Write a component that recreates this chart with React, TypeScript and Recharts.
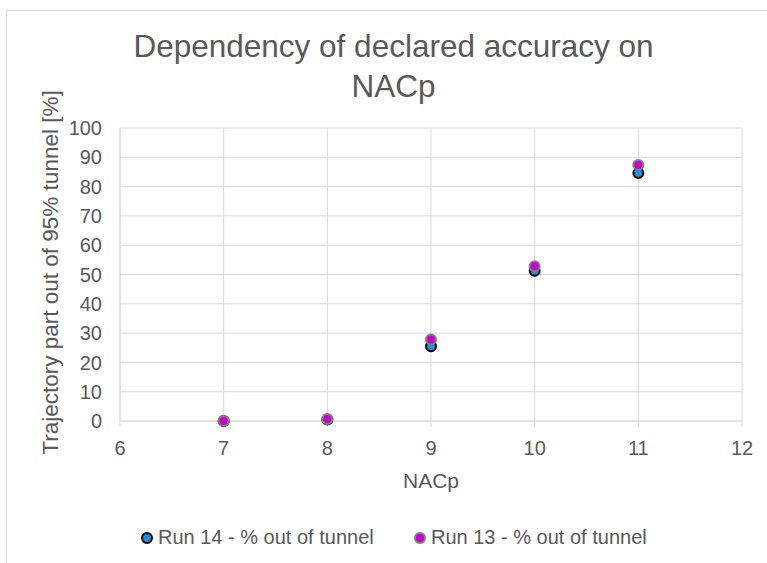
import React from 'react';
import { ScatterChart, Scatter, XAxis, YAxis, CartesianGrid, Legend } from 'recharts';

const nacp = [7, 8, 9, 10, 11];
const run14 = [0, 0.5, 25.5, 51.3, 84.6];
const run13 = [0, 0.7, 27.8, 52.8, 87.4];
const xTicks = [6, 7, 8, 9, 10, 11, 12];
const yTicks = [0, 10, 20, 30, 40, 50, 60, 70, 80, 90, 100];
const seriesNames = ['Run 14 - % out of tunnel', 'Run 13 - % out of tunnel'];

const data14 = nacp.map((x, i) => ({ x, y: run14[i] }));
const data13 = nacp.map((x, i) => ({ x, y: run13[i] }));

const FONT = '"Liberation Sans", Arial, sans-serif';
const TXT = '#595959';
const GRID = '#d9d9d9';

const BLUE = { fill: '#1d8fe1', stroke: '#000000' };
const PINK = { fill: '#cc00cc', stroke: '#7f7f7f' };

const makeShape = (st: { fill: string; stroke: string }) => (props: any) => (
  <circle cx={props.cx} cy={props.cy} r={5} fill={st.fill} stroke={st.stroke} strokeWidth={2} />
);

const YLabel = (props: any) => {
  const vb = props.viewBox || { x: 60, y: 128, width: 60, height: 293 };
  const cx = vb.x - 10;
  const cy = vb.y + vb.height / 2 - 2;
  return (
    <text
      x={cx}
      y={cy}
      transform={`rotate(-90, ${cx}, ${cy})`}
      textAnchor="middle"
      dominantBaseline="central"
      fill={TXT}
      fontSize={22.5}
      fontFamily={FONT}
    >
      Trajectory part out of 95% tunnel [%]
    </text>
  );
};

const LegendContent = () => {
  const styles = [BLUE, PINK];
  const lefts = [140, 413];
  return (
    <div style={{ position: 'relative', height: 26, fontFamily: FONT, fontSize: 20, color: TXT }}>
      {seriesNames.map((n, i) => (
        <div key={n} style={{ position: 'absolute', left: lefts[i], top: 0, display: 'flex', alignItems: 'center', whiteSpace: 'nowrap' }}>
          <svg width={14} height={14} style={{ marginRight: 4 }}>
            <circle cx={7} cy={7} r={5} fill={styles[i].fill} stroke={styles[i].stroke} strokeWidth={2} />
          </svg>
          <span>{n}</span>
        </div>
      ))}
    </div>
  );
};

export default function App() {
  return (
    <div style={{ position: 'absolute', left: 0, top: 0, width: 767, height: 563, overflow: 'hidden', background: '#fff' }}>
      <div style={{ position: 'absolute', left: 6, top: 10, width: 820, height: 620, border: '1px solid #d9d9d9', boxSizing: 'border-box' }} />
      <div
        style={{
          position: 'absolute',
          left: 7,
          top: 26,
          width: 773,
          textAlign: 'center',
          fontFamily: FONT,
          fontSize: 31.5,
          lineHeight: '40px',
          color: TXT,
        }}
      >
        <div>Dependency of declared accuracy on</div>
        <div>NACp</div>
      </div>
      <div style={{ position: 'absolute', left: 0, top: 0 }}>
        <ScatterChart width={767} height={563} margin={{ top: 128, right: 25, left: 60, bottom: 92 }}>
          <CartesianGrid stroke={GRID} strokeWidth={1} />
          <XAxis
            type="number"
            dataKey="x"
            domain={[6, 12]}
            ticks={xTicks}
            interval={0}
            height={50}
            axisLine={{ stroke: GRID }}
            tickLine={{ stroke: GRID }}
            tickSize={6}
            tickMargin={14}
            tick={{ fill: TXT, fontSize: 20, fontFamily: FONT }}
            label={{ value: 'NACp', position: 'insideBottom', offset: -17, fill: TXT, fontSize: 21, fontFamily: FONT }}
          />
          <YAxis
            type="number"
            dataKey="y"
            domain={[0, 100]}
            ticks={yTicks}
            interval={0}
            width={60}
            axisLine={{ stroke: GRID }}
            tickLine={false}
            tickSize={0}
            tickMargin={18}
            tick={{ fill: TXT, fontSize: 20, fontFamily: FONT }}
            label={<YLabel />}
          />
          <Legend verticalAlign="middle" layout="horizontal" wrapperStyle={{ top: 526, left: 0, width: 767 }} content={<LegendContent />} />
          <Scatter name={seriesNames[0]} data={data14} shape={makeShape(BLUE)} isAnimationActive={false} />
          <Scatter name={seriesNames[1]} data={data13} shape={makeShape(PINK)} isAnimationActive={false} />
        </ScatterChart>
      </div>
    </div>
  );
}
